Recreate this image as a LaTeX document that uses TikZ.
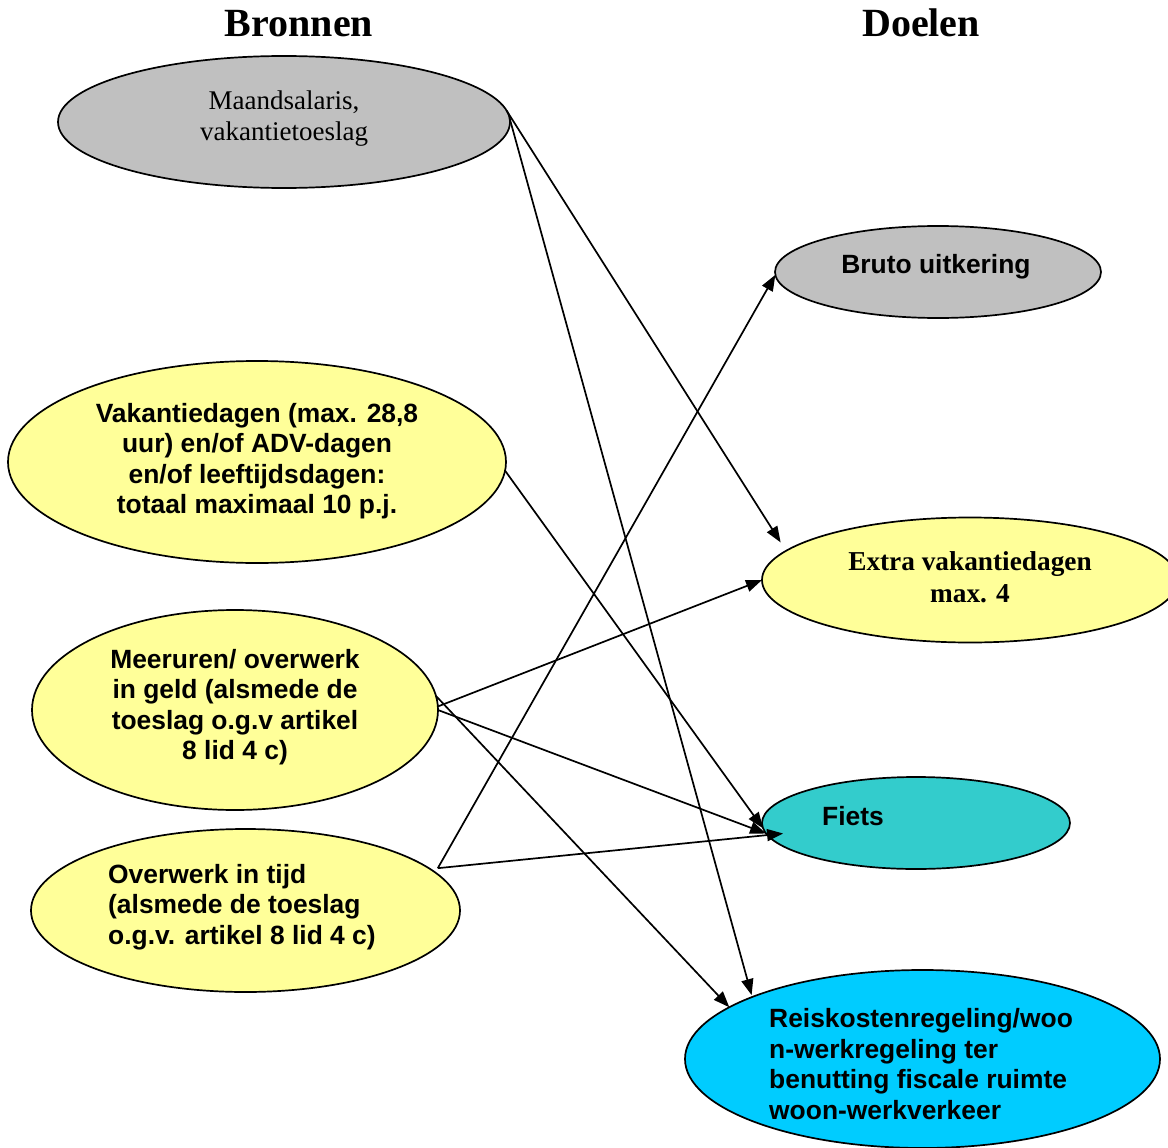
\documentclass[tikz,border=0pt]{standalone}
\usepackage{fontspec}
\setmainfont{Liberation Serif}
\newfontfamily\arialf{Liberation Sans}
\usetikzlibrary{shapes.geometric,arrows.meta}
\definecolor{grayfill}{HTML}{C0C0C0}
\definecolor{yellowfill}{HTML}{FFFF99}
\definecolor{tealfill}{HTML}{33CCCC}
\definecolor{cyanfill}{HTML}{00CCFF}
\tikzset{
  ell/.style={ellipse, draw=black, line width=1.7pt, inner sep=0pt, outer sep=0pt},
  arr/.style={line width=1.7pt, -{Triangle[length=16pt,width=12pt]}},
  sansb/.style={font=\arialf\bfseries\fontsize{26.4}{30.5}\selectfont, inner sep=0pt},
  serifr/.style={font=\fontsize{27}{31}\selectfont, align=center, inner sep=0pt},
  serifb/.style={font=\bfseries\fontsize{27.3}{32}\selectfont, align=center, inner sep=0pt},
  title/.style={font=\bfseries\fontsize{40}{44}\selectfont, inner sep=0pt},
}
\begin{document}
\begin{tikzpicture}[x=1pt,y=-1pt]
\useasboundingbox (0,0) rectangle (1168,1148);
\clip (0,0) rectangle (1168,1148);
% titles
\node[title, anchor=base] (tb) at (299,37) {Bronnen};
\node[title, anchor=base] (td) at (921,37) {Doelen};
% source ellipses
\node[ell, fill=grayfill, minimum width=452pt, minimum height=132pt] (ms) at (284,122) {};
\node[serifr] (mst) at (284,119) {Maandsalaris,\\vakantietoeslag};
\node[ell, fill=yellowfill, minimum width=498pt, minimum height=202pt] (vk) at (257,462) {};
\node[sansb, align=center] (vkt) at (257,461) {Vakantiedagen (max. 28,8\\uur) en/of ADV-dagen\\en/of leeftijdsdagen:\\totaal maximaal 10 p.j.};
\node[ell, fill=yellowfill, minimum width=406pt, minimum height=200pt] (mu) at (235,710) {};
\node[sansb, align=center] (mut) at (235,707) {Meeruren/ overwerk\\in geld (alsmede de\\toeslag o.g.v artikel\\8 lid 4 c)};
\node[ell, fill=yellowfill, minimum width=429pt, minimum height=163pt] (ot) at (245.5,910.5) {};
\node[sansb, align=left, anchor=west] (ott) at (108,907) {Overwerk in tijd\\(alsmede de toeslag\\o.g.v. artikel 8 lid 4 c)};
% target ellipses
\node[ell, fill=grayfill, minimum width=326pt, minimum height=92pt] (bu) at (938,272) {};
\node[sansb] (but) at (936,267) {Bruto uitkering};
\node[ell, fill=yellowfill, minimum width=416pt, minimum height=125pt] (ev) at (970,580) {};
\node[serifb] (evt) at (970,577) {Extra vakantiedagen\\max. 4};
\node[ell, fill=tealfill, minimum width=308pt, minimum height=92pt] (fi) at (916,823) {};
\node[sansb] (fit) at (853,816) {Fiets};
\node[ell, fill=cyanfill, minimum width=475pt, minimum height=178pt] (rk) at (922.5,1059) {};
\node[sansb, align=left, anchor=west] (rkt) at (769,1064) {Reiskostenregeling/woo\\n-werkregeling ter\\benutting fiscale ruimte\\woon-werkverkeer};
% connectors
\draw[arr, shorten >=10pt] (ms.3) -- (ev.171.2);
\draw[arr, shorten >=2pt] (ms.1) -- (rk.160);
\draw[arr] (vk.-2.5) -- (fi.182);
\draw[arr] (mu.1.5) -- (ev.180);
\draw[arr] (mu.0) -- (fi.184);
\draw[arr] (mu.4.8) -- (rk.165);
\draw[arr] ([xshift=9pt]ot.13) -- (bu.181);
\draw[arr] ([xshift=9pt]ot.13) -- ([xshift=17pt]fi.184);
\end{tikzpicture}
\end{document}
